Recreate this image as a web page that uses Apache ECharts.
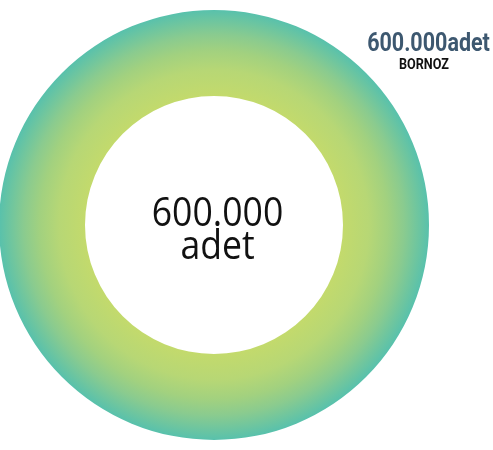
<!DOCTYPE html>
<html>
<head>
<meta charset="utf-8">
<script src="https://cdn.jsdelivr.net/npm/echarts@6/dist/echarts.min.js"></script>
<style>
html,body{margin:0;padding:0;background:#fff;}
#chart{width:493px;height:450px;}
</style>
</head>
<body>
<div id="chart"></div>
<script>
const categories = ['BORNOZ'];
const values = [600000];
const unit = 'adet';

function fmt(v){ return String(v).replace(/\B(?=(\d{3})+(?!\d))/g, '.'); }

const chart = echarts.init(document.getElementById('chart'), null, {renderer:'canvas'});
const total = values.reduce((a,b)=>a+b,0);

const gradient = new echarts.graphic.RadialGradient(0.5, 0.5, 0.5, [
  {offset:0.0, color:'#c4da6c'},
  {offset:0.60, color:'#c3da6c'},
  {offset:0.72, color:'#b7d775'},
  {offset:0.81, color:'#a2d17f'},
  {offset:0.885, color:'#8acb8f'},
  {offset:1.0, color:'#58c1ac'}
]);

chart.setOption({
  animation:false,
  series:[{
    type:'pie',
    center:[214,225],
    radius:[129,215],
    silent:true,
    label:{show:false},
    labelLine:{show:false},
    itemStyle:{color:gradient, borderWidth:0},
    data: categories.map((c,i)=>({name:c, value:values[i]}))
  }],
  graphic:[
    {
      type:'text',
      x:217.5, y:231,
      scaleX:0.89,
      style:{
        text: fmt(total) + '\n' + unit,
        x:0, y:0,
        textAlign:'center', textVerticalAlign:'middle',
        font:'normal 40px "Open Sans", "Noto Sans", sans-serif',
        lineHeight:33,
        fill:'#111'
      }
    },
    {
      type:'text',
      x:428.5, y:45,
      scaleX:0.86,
      style:{
        text: fmt(values[0]) + unit,
        x:0, y:0,
        textAlign:'center', textVerticalAlign:'middle',
        font:'bold 25px Roboto, "Open Sans", sans-serif',
        fill:'#3d5870'
      }
    },
    {
      type:'text',
      x:424, y:65.5,
      scaleX:0.9,
      style:{
        text: categories[0],
        x:0, y:0,
        textAlign:'center', textVerticalAlign:'middle',
        font:'bold 14px Roboto, "Open Sans", sans-serif',
        fill:'#111'
      }
    }
  ]
});
</script>
</body>
</html>
